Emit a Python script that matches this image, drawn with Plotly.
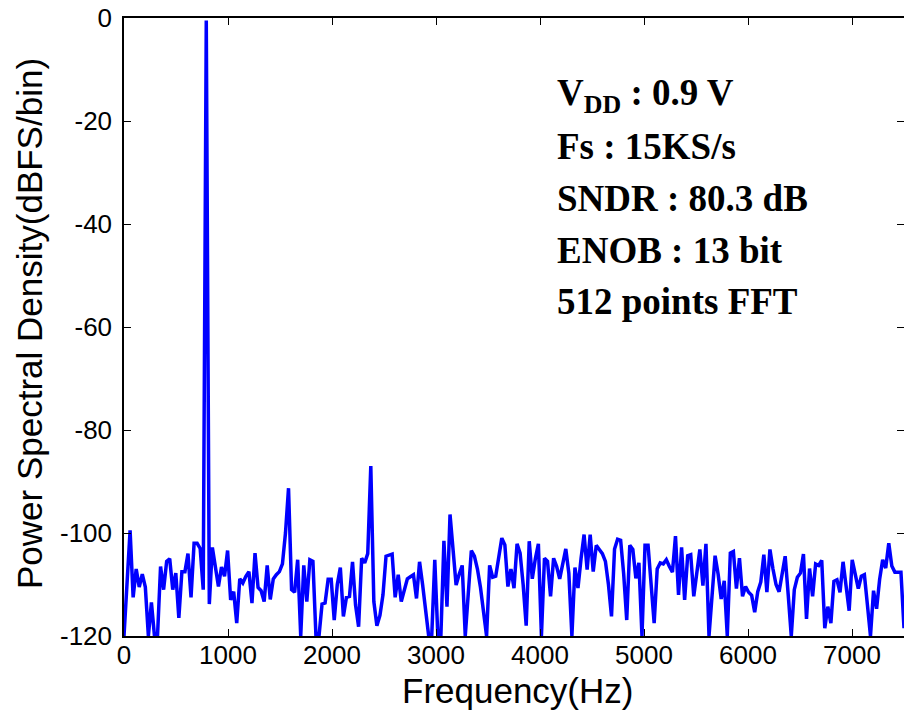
import plotly.graph_objects as go

fs = 15000.0
nfft = 512

psd_db = [
    -120, -110, -99.5, -112.5, -107, -110.5, -108, -110.5, -120, -113.5,
    -120, -120, -106.5, -111, -105.5, -105, -111, -107.8, -116.5, -107.5,
    -107.5, -104, -112.5, -102, -102, -103, -111, -0.5, -113.8, -102.8,
    -107.1, -110.4, -106.6, -108.4, -103.4, -113, -111.4, -117.5, -108.9, -109.7,
    -108.4, -107.5, -113.6, -103.9, -110.6, -111.2, -113.3, -106.3, -112.9, -108.9,
    -108.1, -107.5, -106, -100, -91.3, -111, -111.5, -105.2, -120, -106.3,
    -113.3, -105.2, -105.5, -120, -120, -113.8, -113.6, -109, -109, -116.9,
    -110, -106.7, -116.2, -112.5, -112.3, -105.6, -114, -118.2, -104.9, -105.8,
    -104, -87, -113.3, -118, -116, -112, -104.5, -104.3, -104.1, -112.5,
    -108.1, -113.3, -111, -108.9, -108.5, -108.1, -112.7, -105.6, -110, -115,
    -120, -120, -105.2, -120, -120, -101.5, -114.3, -96.4, -104, -110.1,
    -108, -106.3, -120, -112, -103.4, -104.5, -107, -110.6, -115, -120,
    -106.3, -108.6, -108.4, -105, -101, -102.3, -110.4, -107, -110.7, -102.1,
    -103.9, -110, -118, -101.6, -108.9, -105, -102.1, -120, -104.9, -105.5,
    -112.3, -104.9, -106.5, -108.9, -106, -103.1, -107.8, -120, -106.7, -110.7,
    -105, -100.3, -107.1, -100.3, -107.5, -102.4, -103.2, -104, -105.5, -110,
    -116.2, -103.1, -101.2, -101.4, -108, -116.9, -102.4, -103.2, -108.8, -105.8,
    -120, -102.4, -102.4, -110, -117.5, -107, -105.8, -106, -105.2, -106.5,
    -107.6, -100.6, -112, -102.8, -113, -104.4, -104.2, -112.3, -107, -103.2,
    -110.2, -102.1, -120, -112, -104.4, -108, -112.8, -109.3, -120, -103.9,
    -103.6, -110.8, -104.9, -112.3, -110.4, -111.5, -112.1, -115.4, -111.4, -109.5,
    -104.2, -111.5, -103.2, -107, -110, -111.4, -108, -104.5, -112, -120,
    -111, -108.6, -107.8, -104.1, -116.7, -106.9, -112.3, -106, -106.3, -105.3,
    -118.5, -114.3, -117.5, -109.4, -109.1, -111.5, -105.6, -110, -115.1, -105.2,
    -108, -110.8, -108.4, -108.1, -114, -120, -111.2, -114.7, -109, -105.2,
    -106.8, -102, -106.4, -107.6, -107.6, -107.6, -118.5,
]
freq_hz = [k * fs / nfft for k in range(len(psd_db))]

x_ticks = [0, 1000, 2000, 3000, 4000, 5000, 6000, 7000]
y_ticks = [-120, -100, -80, -60, -40, -20, 0]

x_title = "Frequency(Hz)"
y_title = "Power Spectral Density(dBFS/bin)"

info_lines = [
    "V<sub>DD</sub> : 0.9 V",
    "Fs : 15KS/s",
    "SNDR : 80.3 dB",
    "ENOB : 13 bit",
    "512 points FFT",
]

L, R, T, B = 124, 0, 18, 81
W, H = 904, 717
PW, PH = W - L - R, H - T - B

fig = go.Figure()
fig.add_trace(go.Scatter(
    x=freq_hz, y=psd_db, mode="lines",
    line=dict(color="#0000FF", width=3.5),
    showlegend=False, hoverinfo="skip",
))

sans = "Liberation Sans, Arial, sans-serif"
axis_common = dict(
    showgrid=False, zeroline=False, automargin=False,
    showline=True, linecolor="black", linewidth=1.5,
    mirror="ticks", ticks="inside", ticklen=7, tickwidth=1, tickcolor="black",
    tickfont=dict(family=sans, size=26, color="black"),
)

fig.update_xaxes(
    range=[0, 7500], tickvals=x_ticks, ticktext=[str(v) for v in x_ticks],
    ticklabelstandoff=-5,
    **axis_common,
)
fig.update_yaxes(
    range=[-120, 0], tickvals=y_ticks, ticktext=[str(v) for v in y_ticks],
    ticklabelstandoff=5,
    **axis_common,
)

# axis titles
fig.add_annotation(
    xref="paper", yref="paper", x=(517 - L) / PW, y=-(690 - (T + PH)) / PH,
    xanchor="center", yanchor="middle", showarrow=False, text=x_title,
    font=dict(family=sans, size=35, color="black"),
)
fig.add_annotation(
    xref="paper", yref="paper", x=-(L - 29) / PW, y=1 - (324 - T) / PH,
    xanchor="center", yanchor="middle", showarrow=False, text=y_title, textangle=-90,
    font=dict(family=sans, size=35, color="black"),
)

for i, t in enumerate(info_lines):
    fig.add_annotation(
        xref="paper", yref="paper", x=(555 - L) / PW, y=1 - (95 - T + i * 51.7) / PH,
        xanchor="left", yanchor="middle", showarrow=False, text="<b>" + t + "</b>",
        font=dict(family="Liberation Serif, Times New Roman, serif", size=37, color="black"),
    )

fig.update_layout(
    width=W, height=H,
    margin=dict(l=L, r=R, t=T, b=B, autoexpand=False),
    paper_bgcolor="white", plot_bgcolor="white",
)

fig.write_html(
    "out.html",
    config={"displayModeBar": False},
    post_script="document.body.style.margin='0';document.body.style.overflow='hidden';",
)
